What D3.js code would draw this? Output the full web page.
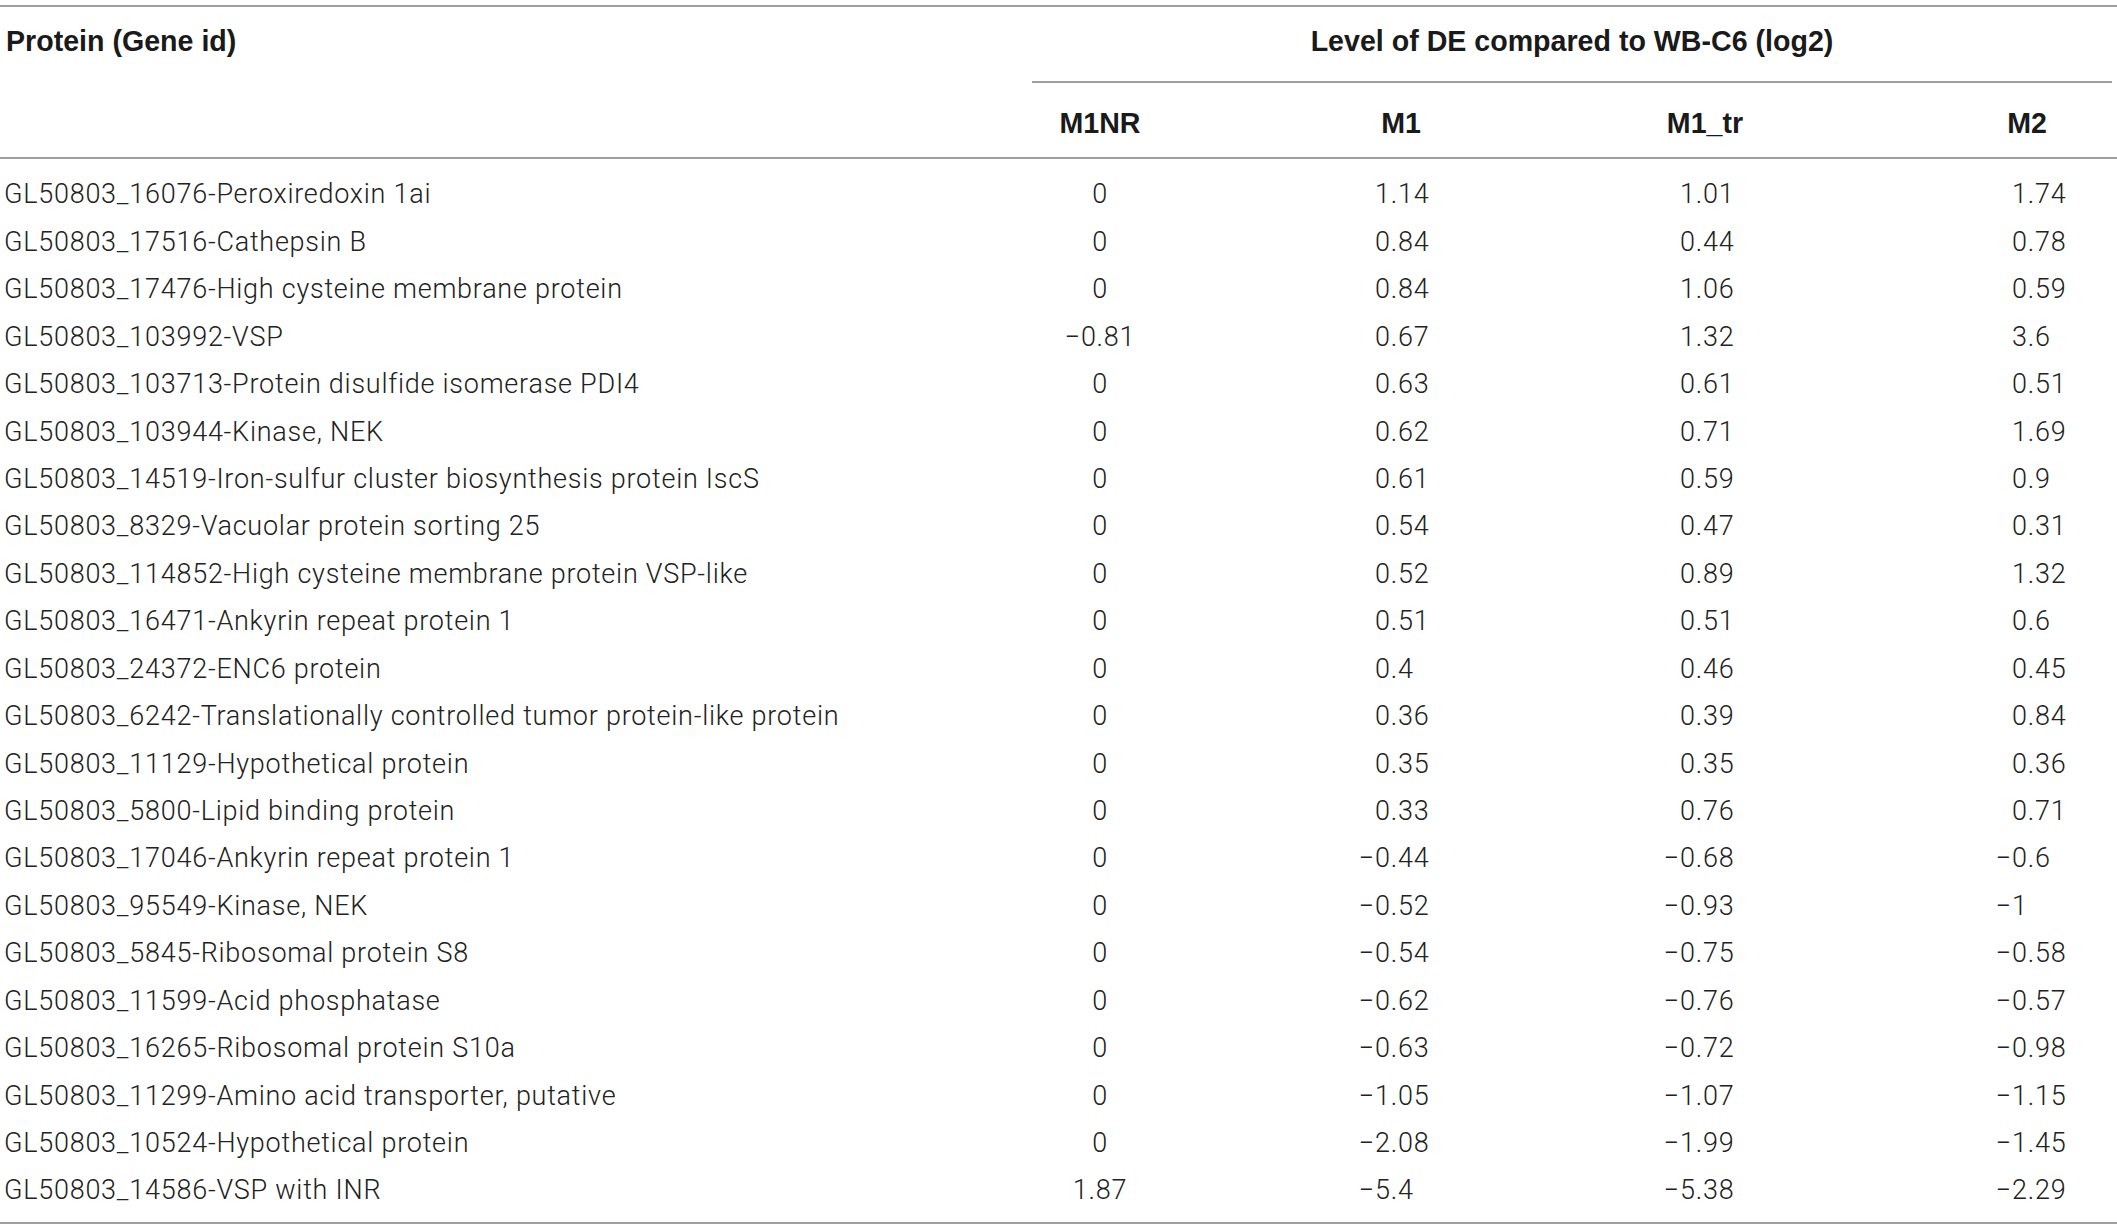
<!DOCTYPE html>
<html>
<head>
<meta charset="utf-8">
<script src="https://cdn.jsdelivr.net/npm/d3@7/dist/d3.min.js"></script>
<style>
    body { margin: 0; background: #fff; }
    .hd { font-family: "Liberation Sans", Arial, sans-serif; font-weight: bold; font-size: 28.6px; fill: #1a1a1a; }
    .cell { font-family: Roboto, "Liberation Sans", sans-serif; font-weight: 300; font-size: 27px; letter-spacing: 0.75px; fill: #222; }
    .rule { stroke: #808080; stroke-width: 1.6; }
</style>
</head>
<body>
<div id="tbl"></div>
<script>
var width = 2117;
var height = 1229;

// ===== data =====
var proteins = [
    "GL50803_16076-Peroxiredoxin 1ai",
    "GL50803_17516-Cathepsin B",
    "GL50803_17476-High cysteine membrane protein",
    "GL50803_103992-VSP",
    "GL50803_103713-Protein disulfide isomerase PDI4",
    "GL50803_103944-Kinase, NEK",
    "GL50803_14519-Iron-sulfur cluster biosynthesis protein IscS",
    "GL50803_8329-Vacuolar protein sorting 25",
    "GL50803_114852-High cysteine membrane protein VSP-like",
    "GL50803_16471-Ankyrin repeat protein 1",
    "GL50803_24372-ENC6 protein",
    "GL50803_6242-Translationally controlled tumor protein-like protein",
    "GL50803_11129-Hypothetical protein",
    "GL50803_5800-Lipid binding protein",
    "GL50803_17046-Ankyrin repeat protein 1",
    "GL50803_95549-Kinase, NEK",
    "GL50803_5845-Ribosomal protein S8",
    "GL50803_11599-Acid phosphatase",
    "GL50803_16265-Ribosomal protein S10a",
    "GL50803_11299-Amino acid transporter, putative",
    "GL50803_10524-Hypothetical protein",
    "GL50803_14586-VSP with INR"
];
var m1nr = [0, 0, 0, -0.81, 0, 0, 0, 0, 0, 0, 0, 0, 0, 0, 0, 0, 0, 0, 0, 0, 0, 1.87];
var m1   = [1.14, 0.84, 0.84, 0.67, 0.63, 0.62, 0.61, 0.54, 0.52, 0.51, 0.4, 0.36, 0.35, 0.33, -0.44, -0.52, -0.54, -0.62, -0.63, -1.05, -2.08, -5.4];
var m1tr = [1.01, 0.44, 1.06, 1.32, 0.61, 0.71, 0.59, 0.47, 0.89, 0.51, 0.46, 0.39, 0.35, 0.76, -0.68, -0.93, -0.75, -0.76, -0.72, -1.07, -1.99, -5.38];
var m2   = [1.74, 0.78, 0.59, 3.6, 0.51, 1.69, 0.9, 0.31, 1.32, 0.6, 0.45, 0.84, 0.36, 0.71, -0.6, -1, -0.58, -0.57, -0.98, -1.15, -1.45, -2.29];

var columns = ["M1NR", "M1", "M1_tr", "M2"];
var headerLeft = "Protein (Gene id)";
var headerGroup = "Level of DE compared to WB-C6 (log2)";

var series = [m1nr, m1, m1tr, m2];

// ===== scales =====
var yRow = d3.scalePoint()
    .domain(d3.range(proteins.length))
    .range([194, 1190]);

// column centres (header) and value anchors
var xHead = d3.scaleOrdinal().domain(columns).range([1100, 1401, 1705, 2027]);
var xVal = d3.scaleOrdinal().domain(columns).range([1100, 1375, 1680, 2012]);
var alignCol = d3.scaleOrdinal().domain(columns).range(["middle", "start", "start", "start"]);

function fmt(v) {
    return String(v).replace("-", "\u2212");
}

var svg = d3.select("#tbl").append("svg")
    .attr("width", width)
    .attr("height", height);

// ===== rules =====
svg.append("line").attr("class", "rule").attr("x1", 0).attr("x2", width).attr("y1", 6).attr("y2", 6);
svg.append("line").attr("class", "rule").attr("x1", 1032).attr("x2", 2112).attr("y1", 82).attr("y2", 82);
svg.append("line").attr("class", "rule").attr("x1", 0).attr("x2", width).attr("y1", 158).attr("y2", 158);
svg.append("line").attr("class", "rule").attr("x1", 0).attr("x2", width).attr("y1", 1223).attr("y2", 1223);

// ===== headers =====
svg.append("text").attr("class", "hd")
    .attr("x", 6).attr("y", 41).attr("dy", "0.35em")
    .text(headerLeft);

svg.append("text").attr("class", "hd")
    .attr("x", 1572).attr("y", 41).attr("dy", "0.35em")
    .attr("text-anchor", "middle")
    .text(headerGroup);

svg.selectAll("text.colhead")
    .data(columns)
    .enter()
    .append("text")
    .attr("class", "hd colhead")
    .attr("x", function(d) { return xHead(d); })
    .attr("y", 123).attr("dy", "0.35em")
    .attr("text-anchor", "middle")
    .text(function(d) { return d; });

// ===== body =====
svg.selectAll("text.prot")
    .data(proteins)
    .enter()
    .append("text")
    .attr("class", "cell prot")
    .attr("x", 4)
    .attr("y", function(d, i) { return yRow(i); })
    .attr("dy", "0.35em")
    .text(function(d) { return d; });

// width of the minus sign, so negatives hang to the left of the digits
var probe = svg.append("text").attr("class", "cell").text("\u2212");
var minusW = probe.node().getComputedTextLength();
probe.remove();

columns.forEach(function(col, c) {
    svg.selectAll("text.v" + c)
        .data(series[c])
        .enter()
        .append("text")
        .attr("class", "cell v" + c)
        .attr("x", function(d) {
            if (alignCol(col) === "start" && d < 0) return xVal(col) - minusW;
            return xVal(col);
        })
        .attr("y", function(d, i) { return yRow(i); })
        .attr("dy", "0.35em")
        .attr("text-anchor", alignCol(col))
        .text(fmt);
});
</script>
</body>
</html>
